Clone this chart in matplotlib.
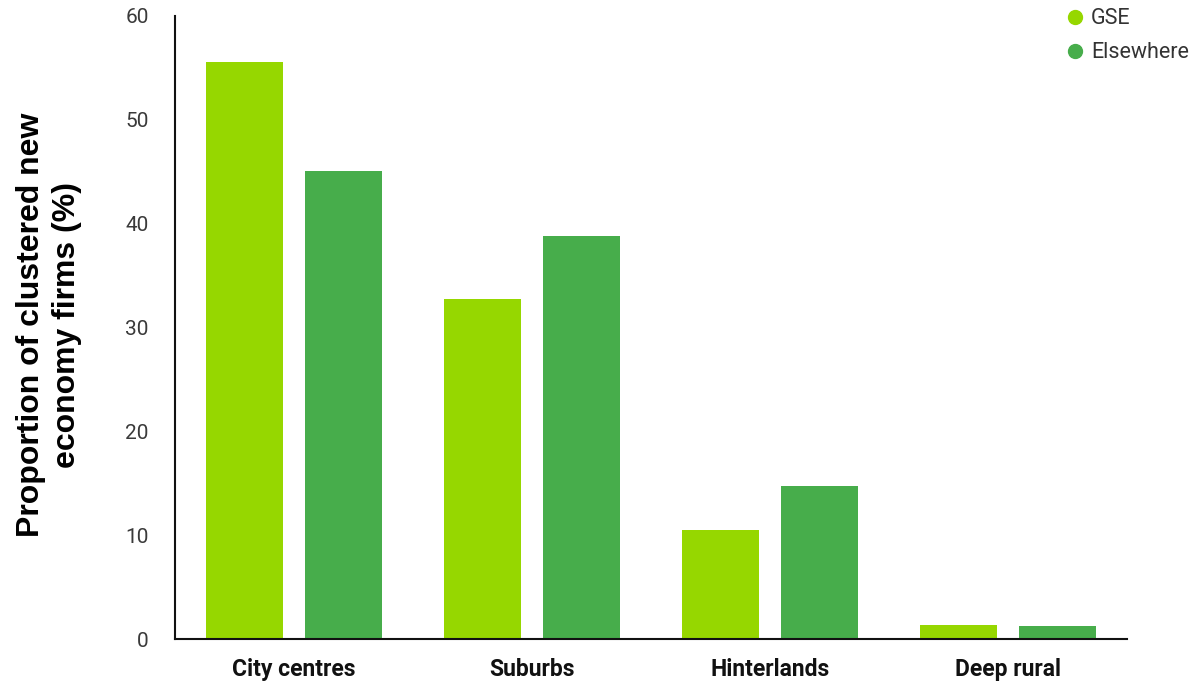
import matplotlib
matplotlib.use("Agg")
import matplotlib.pyplot as plt
import numpy as np
from matplotlib.lines import Line2D

categories = ["City centres", "Suburbs", "Hinterlands", "Deep rural"]
gse = [55.6, 32.7, 10.5, 1.35]
elsewhere = [45.1, 38.8, 14.7, 1.25]
series_names = ["GSE", "Elsewhere"]
colors = ["#96D700", "#47AD4B"]
yticks = [0, 10, 20, 30, 40, 50, 60]

fig = plt.figure(figsize=(12.02, 6.83), dpi=100)
ax = fig.add_axes([0.1456, 0.0644, 0.792, 0.9122])

x = np.arange(len(categories))
w = 0.3235
off = 0.206
ax.bar(x - off, gse, width=w, color=colors[0])
ax.bar(x + off, elsewhere, width=w, color=colors[1])

ax.set_xlim(-0.5, 3.5)
ax.set_ylim(0, 60)
ax.set_yticks(yticks)
ax.set_xticks(x)
ax.set_xticklabels(categories, fontsize=16.5, fontweight="bold",
                   family=["Roboto", "DejaVu Sans"], color="#111111")
ax.set_yticklabels([str(t) for t in yticks], fontsize=15,
                   family=["Roboto", "DejaVu Sans"], color="#3a3a3a")
ax.tick_params(axis="both", length=0)
ax.tick_params(axis="x", pad=14)
ax.tick_params(axis="y", pad=19)

for s in ["top", "right"]:
    ax.spines[s].set_visible(False)
ax.spines["left"].set_linewidth(1.5)
ax.spines["bottom"].set_linewidth(1.5)
ax.spines["left"].set_color("#111111")
ax.spines["bottom"].set_color("#111111")

fig.text(0.041, 0.524, "Proportion of clustered new\neconomy firms (%)",
         rotation=90, ha="center", va="center", fontsize=23,
         fontweight="bold", family=["Liberation Sans", "DejaVu Sans"],
         linespacing=1.25)

handles = [Line2D([], [], marker="o", linestyle="none", markersize=10,
                  markerfacecolor=c, markeredgecolor=c) for c in colors]
leg = fig.legend(handles, series_names, loc="upper left",
                 bbox_to_anchor=(0.869, 1.016), frameon=False,
                 handletextpad=0.25, labelspacing=0.6, handlelength=1.0,
                 prop={"family": "Roboto", "size": 15.5})
for t in leg.get_texts():
    t.set_color("#333333")

fig.savefig("out.png", dpi=100)
